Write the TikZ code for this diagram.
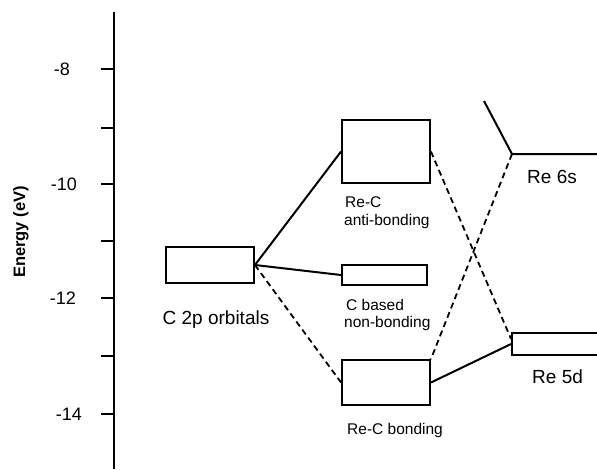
\documentclass[tikz,border=0pt]{standalone}
\usepackage{fontspec}
\setmainfont{Liberation Sans}
\usetikzlibrary{positioning}

\begin{document}
\begin{tikzpicture}[x=1pt, y=-1pt,
  orbital/.style={draw, line width=1.9pt, inner sep=0pt},
  solidlink/.style={line width=2pt},
  dashlink/.style={line width=1.8pt, dash pattern=on 6pt off 4pt},
  biglbl/.style={font=\fontsize{19}{21}\selectfont, inner sep=0pt},
  smalllbl/.style={font=\fontsize{15.5}{19}\selectfont, inner sep=0pt}]
 \useasboundingbox (0,0) rectangle (597,469);
 % energy axis
 \draw[line width=2pt] (114,12) -- (114,469);
 \foreach \y in {69,128,184,241,298,356,414}
   \draw[line width=2pt] (101,\y) -- (114,\y);
 \foreach \t/\x/\y in {-8/70/69,-10/77/184,-12/76/298,-14/82/414}
   \node[biglbl, font=\fontsize{18}{20}\selectfont, anchor=east] at (\x,\y) {\t};
 \node[inner sep=0pt, font=\fontsize{16.5}{19}\selectfont\bfseries, rotate=90] (axislbl) at (21,232) {Energy (eV)};
 % levels
 \node[orbital, minimum width=88pt, minimum height=36pt] (c2p) at (210,265) {};
 \node[orbital, minimum width=88pt, minimum height=63pt] (antib) at (386,151.5) {};
 \node[orbital, minimum width=85pt, minimum height=20pt] (nonb) at (384.5,275) {};
 \node[orbital, minimum width=88pt, minimum height=45pt] (bondg) at (386,382.5) {};
 \node[orbital, minimum width=98pt, minimum height=22pt] (re5d) at (561,344) {};
 \coordinate (s6top) at (484,101);
 \coordinate (s6) at (512,154);
 \coordinate (s6end) at (600,154);
 \draw[solidlink] (s6top) -- (s6) -- (s6end);
 % labels
 \node[biglbl, anchor=base] (c2plbl) at (216,324) {C 2p orbitals};
 \node[smalllbl, anchor=base west] (antilbl1) at (345,207) {Re-C};
 \node[smalllbl, anchor=base west] (antilbl2) at (344,225) {anti-bonding};
 \node[smalllbl, anchor=base west] (nonblbl1) at (346,310) {C based};
 \node[smalllbl, anchor=base west] (nonblbl2) at (344,327) {non-bonding};
 \node[smalllbl, anchor=base west] (bondlbl) at (347,434) {Re-C bonding};
 \node[biglbl, anchor=base west] (s6lbl) at (527,183) {Re 6s};
 \node[biglbl, anchor=base west] (d5lbl) at (532,383) {Re 5d};
 % interactions
 \path[solidlink]
  (c2p.east) edge[solidlink] (antib.west)
             edge[solidlink] (nonb.west);
 \draw[solidlink] (bondg.east) -- (re5d.west);
 \draw[dashlink] (c2p.east) -- (bondg.west);
 \draw[dashlink] (antib.east) -- ([yshift=5pt]re5d.west);
 \draw[dashlink] (s6) -- (bondg.north east);
\end{tikzpicture}
\end{document}
